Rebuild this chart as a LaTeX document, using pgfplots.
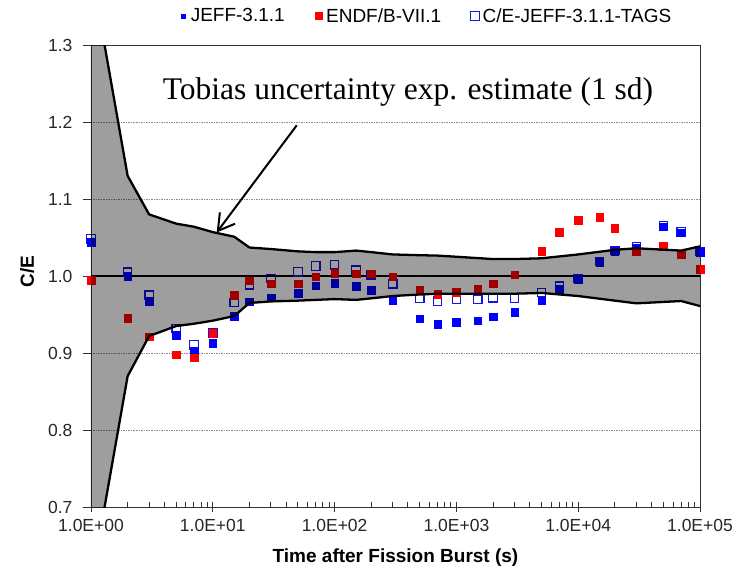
\documentclass[border=0pt]{standalone}
\usepackage{fontspec}
\setmainfont{Liberation Sans}
\newfontfamily\timesfont{Liberation Serif}
\usepackage{pgfplots}
\pgfplotsset{compat=1.18}
\usepackage{pgfplotstable}
\usetikzlibrary{arrows.meta}

\definecolor{jeffblue}{RGB}{0,0,255}
\definecolor{endfred}{RGB}{255,0,0}
\definecolor{tagsblue}{RGB}{20,20,225}

% C/E ratios versus cooling time (s)
\pgfplotstableread{
t      jeff    endf    tags
1      1.0437  0.9946  1.0480
2      1.0000  0.9455  1.0050
3      0.9675  0.9210  0.9750
5      0.9230  0.8980  0.9320
7      0.9025  0.8940  0.9106
10     0.9124  0.9260  0.9257
15     0.9480  0.9750  0.9658
20     0.9667  0.9940  0.9886
30     0.9720  0.9900  0.9970
50     0.9780  0.9900  1.0054
70     0.9873  0.9990  1.0130
100    0.9910  1.0040  1.0145
150    0.9864  1.0030  1.0075
200    0.9817  1.0030  1.0015
300    0.9680  0.9990  0.9900
500    0.9447  0.9820  0.9710
700    0.9377  0.9765  0.9675
1000   0.9400  0.9787  0.9700
1500   0.9420  0.9834  0.9700
2000   0.9473  0.9900  0.9718
3000   0.9528  1.0015  0.9713
5000   0.9680  1.0320  0.9787
7000   0.9826  1.0566  0.9868
10000  0.9955  1.0726  0.9970
15000  1.0183  1.0760  1.0190
20000  1.0320  1.0620  1.0330
30000  1.0368  1.0326  1.0385
50000  1.0640  1.0385  1.0650
70000  1.0560  1.0280  1.0575
100000 1.0310  1.0088  1.0320
}\ratios

% experimental uncertainty band (1 sd)
\pgfplotstableread{
t      up      lo
1      1.4000  0.6000
2      1.1300  0.8700
3      1.0800  0.9220
5      1.0680  0.9350
7      1.0640  0.9380
10     1.0570  0.9420
15     1.0510  0.9480
20     1.0370  0.9650
30     1.0350  0.9670
50     1.0320  0.9680
70     1.0310  0.9690
100    1.0310  0.9700
150    1.0330  0.9690
200    1.0310  0.9710
300    1.0280  0.9740
500    1.0270  0.9760
700    1.0265  0.9770
1000   1.0250  0.9770
2000   1.0220  0.9770
3000   1.0220  0.9770
5000   1.0230  0.9780
10000  1.0280  0.9740
20000  1.0340  0.9680
30000  1.0360  0.9645
70000  1.0330  0.9675
100000 1.0385  0.9610
}\band

\begin{document}
\begin{tikzpicture}
\path[use as bounding box] (-91pt,-64pt) rectangle (658pt,507pt);
\begin{axis}[
  at={(0,0)}, anchor=south west,
  scale only axis, width=609pt, height=462pt,
  xmode=log, xmin=1, xmax=100000, ymin=0.7, ymax=1.3,
  clip mode=individual,
  xtick={1,10,100,1000,10000,100000},
  xticklabels={1.0E+00,1.0E+01,1.0E+02,1.0E+03,1.0E+04,1.0E+05},
  ytick={0.7,0.8,0.9,1.0,1.1,1.2,1.3},
  yticklabel style={xshift=-7pt, /pgf/number format/.cd, fixed, fixed zerofill, precision=1},
  /pgf/number format/assume math mode=true,
  ymajorgrids,
  major grid style={black!45, line width=0.6pt, dash pattern=on 1.5pt off 1pt},
  tick align=outside,
  xtick pos=left, ytick pos=left,
  major tick length=8pt, minor tick length=5pt,
  minor x tick style={yshift=5pt},
  major x tick style={yshift=3.5pt},
  axis line style={black!80, line width=0.9pt},
  tick style={black!80, line width=0.9pt},
  tick label style={font=\fontsize{17.5}{20}\selectfont, text=black!85},
  xticklabel style={yshift=-1pt},
  xlabel={\textbf{Time after Fission Burst (s)}},
  ylabel={\textbf{C/E}},
  every axis x label/.style={at={(axis description cs:0.5,-0.110)}, anchor=center,
    font=\fontsize{19}{22}\selectfont},
  every axis y label/.style={at={(axis description cs:-0.105,0.51)}, rotate=90, anchor=center,
    font=\fontsize{19}{22}\selectfont},
  legend image code/.code={\path (-4pt,0pt) (4pt,0pt); \draw[#1] plot coordinates {(0pt,0pt)};},
  legend columns=3,
  legend cell align=left,
  legend style={draw=none, fill=none, at={(0.139,1.063)}, anchor=west,
    font=\fontsize{19}{22}\selectfont,
    nodes={inner xsep=3.5pt},
    /tikz/every even column/.append style={column sep=26pt}},
]
\addplot[black, line width=2.6pt, forget plot] coordinates {(1,1) (100000,1)};

\addplot[only marks, mark=square, mark size=4.2pt,
  mark options={draw=tagsblue, line width=1.2pt}, forget plot]
  table[x=t, y=tags] {\ratios};

\addplot[only marks, mark=square*, mark size=3.8pt, color=jeffblue,
  legend image post style={mark size=2pt}]
  table[x=t, y=jeff] {\ratios};
\addlegendentry{JEFF-3.1.1}

\addplot[only marks, mark=square*, mark size=3.8pt, color=endfred,
  legend image post style={mark size=3.3pt}]
  table[x=t, y=endf] {\ratios};
\addlegendentry{ENDF/B-VII.1}

\addlegendimage{only marks, mark=square, mark size=4.2pt,
  mark options={draw=tagsblue, line width=1pt}}
\addlegendentry{C/E-JEFF-3.1.1-TAGS}

% shaded band: lower bound as stack base, band width stacked on top
\addplot[draw=none, stack plots=y, forget plot] table[x=t, y=lo] {\band};
\addplot[draw=none, fill=black, fill opacity=0.38, stack plots=y, forget plot]
  table[x=t, y expr=\thisrow{up}-\thisrow{lo}] {\band} \closedcycle;

\addplot[black, line width=2.3pt, forget plot] table[x=t, y=up] {\band};
\addplot[black, line width=2.3pt, forget plot] table[x=t, y=lo] {\band};

\node[font=\timesfont\fontsize{31.5}{36}\selectfont, anchor=base]
  at (axis description cs:0.5205,0.8825) {Tobias uncertainty exp. estimate (1 sd)};
\draw[-{Straight Barb[length=16pt, width=19pt]}, line width=2pt]
  (axis cs:48.9,1.1957) -- (axis cs:10.77,1.0566);
\end{axis}
\end{tikzpicture}
\end{document}
